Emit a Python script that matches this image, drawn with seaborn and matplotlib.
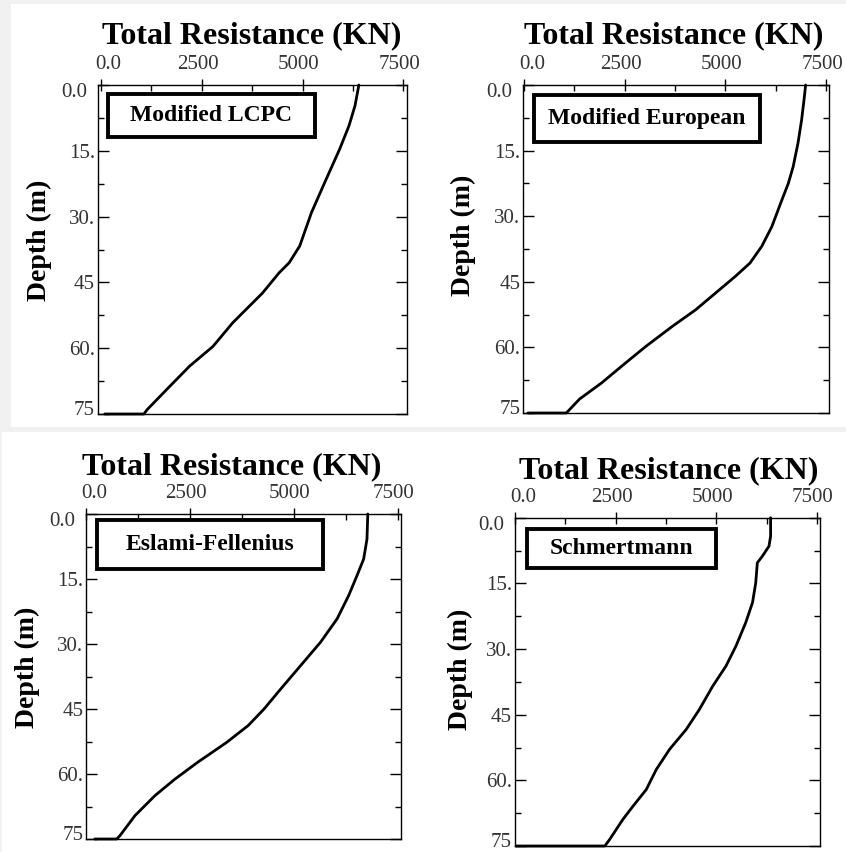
import numpy as np
import pandas as pd
import matplotlib
matplotlib.use("Agg")
import matplotlib.pyplot as plt
import matplotlib.transforms as mtransforms
from matplotlib.patches import Rectangle
from matplotlib.ticker import FixedLocator, MultipleLocator
import seaborn as sns

sns.set_theme(style="white")
plt.rcParams["font.family"] = ["Liberation Serif", "DejaVu Serif"]

# ---- pile capacity profiles: total resistance (kN) versus depth (m) ----
lcpc_res = [6395, 6300, 6150, 5920, 5550, 5220, 4930, 4670, 4420, 4010,
            3760, 3270, 2780, 2200, 1710, 1150, 1070, 100]
lcpc_depth = [0, 4.7, 9.3, 14.6, 22.2, 29.1, 36.7, 40.5, 42.8, 47.4,
              49.7, 54.2, 59.6, 64.1, 68.7, 74.0, 75, 75]

euro_res = [6990, 6950, 6890, 6800, 6680, 6560, 6400, 6150, 5900, 5610,
            5240, 4750, 4260, 3680, 3020, 2515, 1915, 1380, 1050, 100]
euro_depth = [0, 3.4, 8.0, 13.3, 18.7, 22.5, 26.3, 32.4, 36.9, 40.7,
              43.8, 47.6, 51.4, 55.2, 59.8, 63.6, 68.2, 71.8, 75, 75]

eslami_res = [6780, 6760, 6680, 6520, 6320, 6040, 5640, 5160, 4680, 4280,
              3900, 3380, 2680, 2130, 1650, 1170, 810, 730, 200]
eslami_depth = [0, 5.8, 10.4, 14.2, 18.8, 24.2, 29.6, 35.0, 40.4, 45.0,
                48.8, 52.7, 57.3, 61.2, 65.0, 69.6, 74.2, 75, 75]

schm_res = [6350, 6350, 6310, 6145, 6020, 5980, 5900, 5730, 5490, 5240,
            4910, 4580, 4250, 3840, 3510, 3260, 2930, 2680, 2350, 2230, 30]
schm_depth = [0, 4.2, 6.5, 8.8, 10.3, 14.9, 19.4, 24.0, 29.3, 33.9,
              38.5, 43.8, 48.4, 52.9, 57.5, 62.1, 65.9, 68.9, 73.5, 75, 75]

method_names = ["Modified LCPC", "Modified European", "Eslami-Fellenius", "Schmertmann"]

x_ticks = [0, 2500, 5000, 7500]
x_tick_labels = ["0.0", "2500", "5000", "7500"]
y_ticks = [0, 15, 30, 45, 60, 75]
y_tick_labels = ["0.0", "15.", "30.", "45", "60.", "75"]

x_label = "Total Resistance (KN)"
y_label = "Depth (m)"

W, H = 846, 852
fig = plt.figure(figsize=(W / 100, H / 100), dpi=100)
fig.patch.set_facecolor("#f1f1f1")

# white panel backgrounds
for (x0, y0, x1, y1) in [(11, 4, 846, 427), (2, 432, 846, 852)]:
    fig.patches.append(Rectangle((x0 / W, 1 - y1 / H), (x1 - x0) / W, (y1 - y0) / H,
                                 transform=fig.transFigure, facecolor="white",
                                 edgecolor="none", zorder=-10))

# panel geometry in pixels: left, right, top, bottom
panels = [
    dict(rect=(97.7, 406.7, 85, 414), xlim=(-75, 7580),
         box=(0.033, 0.703, 0.842, 0.973), title=(252, 43), ylab=(52, 240)),
    dict(rect=(523, 829, 85, 413), xlim=(-25, 7570),
         box=(0.036, 0.775, 0.826, 0.970), title=(674, 43), ylab=(476, 235)),
    dict(rect=(86, 401, 514, 839), xlim=(-10, 7580),
         box=(0.035, 0.752, 0.831, 0.982), title=(232, 474), ylab=(40, 667)),
    dict(rect=(514.7, 819.7, 517.7, 846), xlim=(-10, 7570),
         box=(0.040, 0.660, 0.847, 0.966), title=(669, 478), ylab=(473, 669)),
]

series = [(lcpc_res, lcpc_depth), (euro_res, euro_depth),
          (eslami_res, eslami_depth), (schm_res, schm_depth)]


def shifted(artist, dx, dy):
    artist.set_transform(artist.get_transform() +
                         mtransforms.ScaledTranslation(dx / 100, dy / 100, fig.dpi_scale_trans))


for spec, (res, dep), name in zip(panels, series, method_names):
    l, r, t, b = spec["rect"]
    ax = fig.add_axes([l / W, 1 - b / H, (r - l) / W, (b - t) / H])
    ax.set_facecolor("white")

    df = pd.DataFrame({"resistance": res, "depth": dep})
    sns.lineplot(data=df, x="resistance", y="depth", sort=False, estimator=None,
                 color="black", linewidth=2.0, ax=ax, clip_on=False, zorder=5)

    ax.set_xlim(*spec["xlim"])
    ax.set_ylim(75, 0)

    for s in ax.spines.values():
        s.set_color("black")
        s.set_linewidth(1.0)

    # x axis on top
    ax.xaxis.tick_top()
    ax.xaxis.set_major_locator(FixedLocator(x_ticks))
    ax.set_xticklabels(x_tick_labels)
    ax.xaxis.set_minor_locator(FixedLocator([1250, 3750, 6250]))
    ax.tick_params(axis="x", which="major", top=True, bottom=False, direction="inout",
                   length=8, width=1, color="black", pad=4, labelsize=15,
                   labelcolor="#333333")
    ax.tick_params(axis="x", which="minor", top=True, bottom=False, direction="in",
                   length=4, width=1, color="black")
    for i, lab in enumerate(ax.get_xticklabels()):
        shifted(lab, 8 if i == 0 else -4, 0)

    # y axis: depth
    ax.yaxis.set_major_locator(FixedLocator(y_ticks))
    ax.set_yticklabels(y_tick_labels)
    ax.yaxis.set_minor_locator(MultipleLocator(7.5))
    ax.tick_params(axis="y", which="major", left=True, right=True, direction="in",
                   length=8, width=1, color="black", pad=2, labelsize=15,
                   labelcolor="#333333")
    ax.tick_params(axis="y", which="minor", left=True, right=True, direction="in",
                   length=4, width=1, color="black")
    ylabs = ax.get_yticklabels()
    shifted(ylabs[0], -8, -5)
    shifted(ylabs[-1], 0, 6)

    # axis titles
    ax.set_xlabel(x_label, fontsize=23, fontweight="bold", color="black")
    ax.xaxis.set_label_position("top")
    tx, ty = spec["title"]
    ax.xaxis.set_label_coords(*ax.transAxes.inverted().transform((tx, H - ty)))

    ax.set_ylabel(y_label, fontsize=20, fontweight="bold", color="black")
    yx, yy = spec["ylab"]
    ax.yaxis.set_label_coords(*ax.transAxes.inverted().transform((yx, H - yy)))

    # method name box
    x0, x1, y0, y1 = spec["box"]
    ax.add_patch(Rectangle((x0, y0), x1 - x0, y1 - y0, transform=ax.transAxes,
                           facecolor="white", edgecolor="black", linewidth=2.8,
                           zorder=6))
    ax.text((x0 + x1) / 2, (y0 + y1) / 2, name, transform=ax.transAxes,
            ha="center", va="center", fontsize=17, fontweight="bold",
            color="black", zorder=7)

fig.savefig("out.png", dpi=100, facecolor=fig.get_facecolor())
